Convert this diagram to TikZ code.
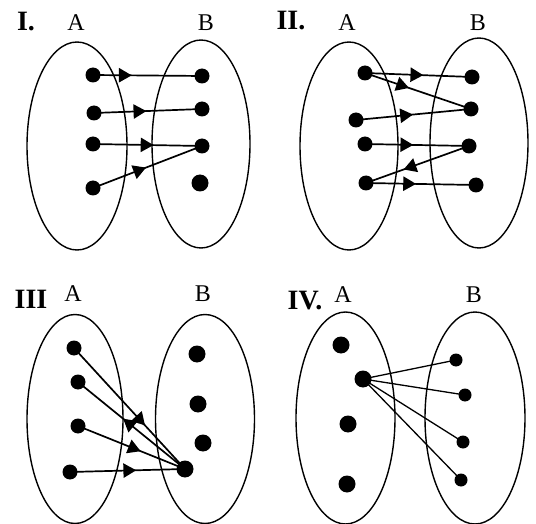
\documentclass[tikz,border=0pt]{standalone}
\usepackage{fontspec}
\setmainfont{Liberation Serif}
\usetikzlibrary{shapes.geometric}
\tikzset{
 dot/.style={circle,fill=black,inner sep=0pt,minimum size=15pt},
 bigdot/.style={dot,minimum size=17pt},
 smalldot/.style={dot,minimum size=13pt},
 setline/.style={line width=1.4pt},
 lbl/.style={inner sep=0pt,font=\fontsize{24}{24}\selectfont},
 num/.style={inner sep=0pt,font=\fontsize{28}{28}\selectfont\bfseries},
 link/.style={line width=1.7pt},
 head/.style={regular polygon,regular polygon sides=3,shape border rotate=-90,fill=black,draw=none,
   inner sep=0pt,minimum size=17pt,sloped,anchor=corner 1},
 headback/.style={head,shape border rotate=90},
 plainlink/.style={line width=1.3pt},
}
\begin{document}
\begin{tikzpicture}[x=1pt,y=-1pt]
\useasboundingbox (0,0) rectangle (536,524);
% ---------- Panel I ----------
\node[num] (Inum) at (26,22) {I.};
\node[lbl] (IA) at (76,23) {A};
\node[lbl] (IB) at (206,23) {B};
\draw[setline] (77,146) ellipse [x radius=50, y radius=104];
\draw[setline] (201,144) ellipse [x radius=49, y radius=104];
\node[dot] (Ia1) at (93,75) {};
\node[dot] (Ia2) at (94,113) {};
\node[dot] (Ia3) at (93,144) {};
\node[dot] (Ia4) at (93,188) {};
\node[dot] (Ib1) at (202,76) {};
\node[dot] (Ib2) at (202,109) {};
\node[dot] (Ib3) at (202,146) {};
\node[bigdot] (Ib4) at (200,183) {};
\draw[link] (Ia1.center) -- node[head,pos=0.37] {} (Ib1.center);
\draw[link] (Ia2.center) -- node[head,pos=0.50] {} (Ib2.center);
\draw[link] (Ia3.center) -- node[head,pos=0.57] {} (Ib3.center);
\draw[link] (Ia4.center) -- node[head,pos=0.50] {} (Ib3.center);
% ---------- Panel II ----------
\node[num] (IInum) at (291,21) {II.};
\node[lbl] (IIA) at (347,23) {A};
\node[lbl] (IIB) at (478,23) {B};
\draw[setline] (349,146) ellipse [x radius=49, y radius=104];
\draw[setline] (479,143) ellipse [x radius=49, y radius=105];
\node[dot] (IIa1) at (365,73) {};
\node[dot] (IIa2) at (356,120) {};
\node[dot] (IIa3) at (365,144) {};
\node[dot] (IIa4) at (366,183) {};
\node[dot] (IIb1) at (472,77) {};
\node[dot] (IIb2) at (471,109) {};
\node[dot] (IIb3) at (469,146) {};
\node[dot] (IIb4) at (476,185) {};
\draw[link] (IIa1.center) -- node[head,pos=0.56] {} (IIb1.center);
\draw[link] (IIa1.center) -- node[head,pos=0.43] {} (IIb2.center);
\draw[link] (IIa2.center) -- node[head,pos=0.51] {} (IIb2.center);
\draw[link] (IIa3.center) -- node[head,pos=0.48] {} (IIb3.center);
\draw[link] (IIa4.center) -- node[headback,pos=0.35] {} (IIb3.center);
\draw[link] (IIa4.center) -- node[head,pos=0.47] {} (IIb4.center);
% ---------- Panel III ----------
\node[num] (IIInum) at (31,299) {III};
\node[lbl] (IIIA) at (73,294) {A};
\node[lbl] (IIIB) at (203,294) {B};
\draw[setline] (75,419) ellipse [x radius=48, y radius=104.5];
\draw[setline] (205,419) ellipse [x radius=49.5, y radius=104.5];
\node[dot] (IIIa1) at (74,348) {};
\node[dot] (IIIa2) at (78,382) {};
\node[dot] (IIIa3) at (78,426) {};
\node[dot] (IIIa4) at (70,472) {};
\node[bigdot] (IIIb1) at (197,354) {};
\node[bigdot] (IIIb2) at (198,404) {};
\node[bigdot] (IIIb3) at (203,443) {};
\node[bigdot] (IIIb4) at (185,469) {};
\draw[link] (IIIa1.center) -- node[head,pos=0.65] {} (IIIb4.center);
\draw[link] (IIIa2.center) -- node[headback,pos=0.41] {} (IIIb4.center);
\draw[link] (IIIa3.center) -- node[head,pos=0.60] {} (IIIb4.center);
\draw[link] (IIIa4.center) -- node[head,pos=0.59] {} (IIIb4.center);
% ---------- Panel IV ----------
\node[num] (IVnum) at (305,301) {IV.};
\node[lbl] (IVA) at (343,295) {A};
\node[lbl] (IVB) at (474,295) {B};
\draw[setline] (345.5,418) ellipse [x radius=49.5, y radius=106];
\draw[setline] (475,418) ellipse [x radius=50, y radius=106];
\node[bigdot] (IVa1) at (341,345) {};
\node[bigdot] (IVa2) at (363,379) {};
\node[bigdot] (IVa3) at (348,424) {};
\node[bigdot] (IVa4) at (347,484) {};
\node[smalldot] (IVb1) at (456,360) {};
\node[smalldot] (IVb2) at (465,395) {};
\node[smalldot] (IVb3) at (463,442) {};
\node[smalldot] (IVb4) at (461,480) {};
\draw[plainlink] (IVa2.center) -- (IVb1.center);
\draw[plainlink] (IVa2.center) -- (IVb2.center);
\draw[plainlink] (IVa2.center) -- (IVb3.center);
\draw[plainlink] (IVa2.center) -- (IVb4.center);
\end{tikzpicture}
\end{document}
